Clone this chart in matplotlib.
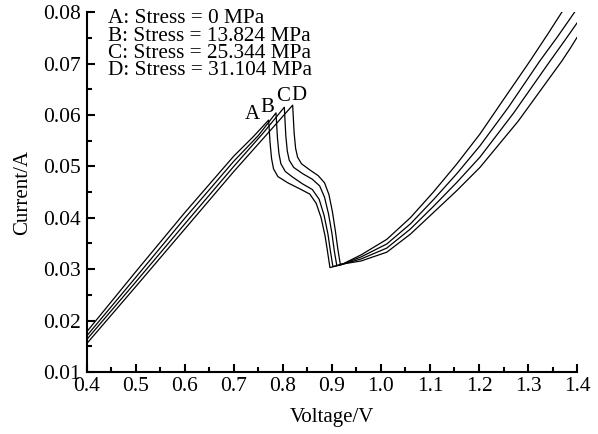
import matplotlib.pyplot as plt
from matplotlib.ticker import MultipleLocator

plt.rcParams['font.family'] = 'Liberation Serif'

# curve data (voltage V, current A)
volt_a = [0.40, 0.50, 0.60, 0.70, 0.74, 0.771, 0.774, 0.777, 0.781, 0.790, 0.810, 0.835, 0.855,
          0.868, 0.878, 0.886, 0.891, 0.896, 0.920, 0.960, 1.012, 1.060, 1.107, 1.155, 1.202,
          1.250, 1.304, 1.340, 1.369]
curr_a = [0.0178, 0.0295, 0.0410, 0.0520, 0.0558, 0.0590, 0.0545, 0.0515, 0.0495, 0.0480, 0.0468,
          0.0456, 0.0446, 0.0428, 0.0400, 0.0365, 0.0335, 0.0303, 0.0309, 0.0328, 0.0358, 0.0400,
          0.0450, 0.0505, 0.0563, 0.0630, 0.0705, 0.0757, 0.0800]

volt_b = [0.40, 0.50, 0.60, 0.70, 0.75, 0.786, 0.789, 0.792, 0.796, 0.805, 0.820, 0.840, 0.860,
          0.874, 0.884, 0.892, 0.897, 0.902, 0.920, 0.960, 1.012, 1.060, 1.107, 1.155, 1.202,
          1.260, 1.324, 1.360, 1.395]
curr_b = [0.0170, 0.0284, 0.0399, 0.0510, 0.0560, 0.0604, 0.0555, 0.0525, 0.0505, 0.0490, 0.0479,
          0.0466, 0.0455, 0.0436, 0.0405, 0.0368, 0.0335, 0.0305, 0.0309, 0.0324, 0.0349, 0.0388,
          0.0435, 0.0486, 0.0540, 0.0615, 0.0705, 0.0752, 0.0800]

volt_c = [0.40, 0.50, 0.60, 0.70, 0.76, 0.803, 0.806, 0.809, 0.813, 0.822, 0.840, 0.860, 0.875,
          0.885, 0.893, 0.900, 0.905, 0.910, 0.920, 0.960, 1.012, 1.060, 1.107, 1.155, 1.202,
          1.270, 1.345, 1.375, 1.400]
curr_c = [0.0163, 0.0275, 0.0388, 0.0500, 0.0565, 0.0615, 0.0560, 0.0530, 0.0512, 0.0498, 0.0486,
          0.0475, 0.0462, 0.0440, 0.0408, 0.0370, 0.0335, 0.0307, 0.0309, 0.0320, 0.0341, 0.0378,
          0.0422, 0.0469, 0.0518, 0.0603, 0.0705, 0.0745, 0.0779]

volt_d = [0.40, 0.50, 0.60, 0.70, 0.77, 0.820, 0.823, 0.826, 0.830, 0.838, 0.855, 0.872, 0.885,
          0.894, 0.901, 0.907, 0.912, 0.917, 0.922, 0.960, 1.012, 1.060, 1.107, 1.155, 1.202,
          1.280, 1.369, 1.385, 1.400]
curr_d = [0.0155, 0.0266, 0.0378, 0.0490, 0.0565, 0.0619, 0.0565, 0.0535, 0.0518, 0.0505, 0.0493,
          0.0482, 0.0468, 0.0445, 0.0412, 0.0375, 0.0340, 0.0310, 0.0310, 0.0316, 0.0333, 0.0368,
          0.0410, 0.0453, 0.0498, 0.0588, 0.0705, 0.0728, 0.0751]

curve_names = ['A', 'B', 'C', 'D']
stress = ['0', '13.824', '25.344', '31.104']
label_pos = [(0.737, 0.0600), (0.769, 0.0615), (0.800, 0.0635), (0.833, 0.0637)]

fig = plt.figure(figsize=(5.98, 4.34), dpi=100)
ax = fig.add_axes([0.145, 0.143, 0.82, 0.829])

for v, c in [(volt_a, curr_a), (volt_b, curr_b), (volt_c, curr_c), (volt_d, curr_d)]:
    ax.plot(v, c, color='black', lw=0.9)

for name, (x, y) in zip(curve_names, label_pos):
    ax.text(x, y, name, fontsize=15, ha='center', va='center')

legend_txt = '\n'.join(f'{n}: Stress = {s} MPa' for n, s in zip(curve_names, stress))
ax.text(0.043, 1.008, legend_txt, transform=ax.transAxes, fontsize=15.3,
        va='top', ha='left', linespacing=0.88)

ax.set_xlim(0.4, 1.4)
ax.set_ylim(0.01, 0.08)
ax.xaxis.set_major_locator(MultipleLocator(0.1))
ax.xaxis.set_minor_locator(MultipleLocator(0.05))
ax.yaxis.set_major_locator(MultipleLocator(0.01))
ax.yaxis.set_minor_locator(MultipleLocator(0.005))
ax.xaxis.set_major_formatter(plt.FormatStrFormatter('%.1f'))
ax.yaxis.set_major_formatter(plt.FormatStrFormatter('%.2f'))

ax.spines['top'].set_visible(False)
ax.spines['right'].set_visible(False)
for s in ['left', 'bottom']:
    ax.spines[s].set_linewidth(1.5)
ax.tick_params(which='both', direction='in', width=1.5, labelsize=15.5, pad=4)
ax.tick_params(which='major', length=6)
ax.tick_params(which='minor', length=3.5)

ax.set_xlabel('Voltage/V', fontsize=15, labelpad=8)
ax.set_ylabel('Current/A', fontsize=15, labelpad=8)

fig.savefig('out.png', dpi=100)
